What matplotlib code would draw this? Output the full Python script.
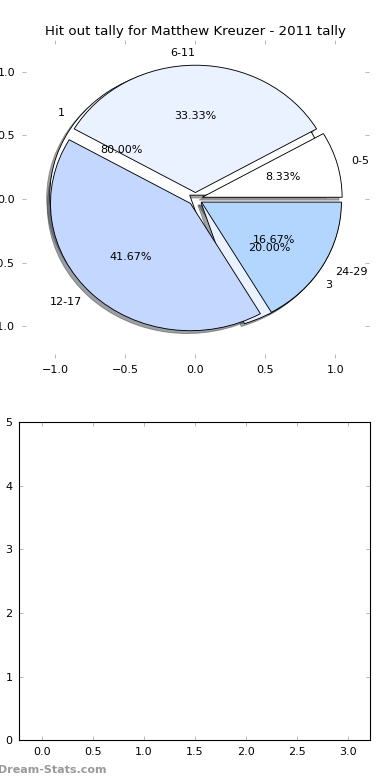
import matplotlib

matplotlib.use("Agg")
import matplotlib.pyplot as plt

# hit out ranges (main pie)
ranges = ["0-5", "6-11", "12-17", "24-29"]
range_counts = [1, 4, 5, 2]

# second series drawn underneath
games_labels = ["1", "3"]
games_counts = [4, 1]

colors = ["#ffffff", "#ebf2ff", "#c4d7ff", "#b3d6ff"]
title = "Hit out tally for Matthew Kreuzer - 2011 tally"

plt.rcParams["font.size"] = 10

fig = plt.figure(figsize=(4.875, 9.75), dpi=80, facecolor="white")

ax = fig.add_axes([0.056, 0.541, 0.89, 0.408])
ax.pie(games_counts, labels=games_labels, colors=colors, explode=[0.05] * 2,
       autopct="%1.2f%%", shadow=True, startangle=0,
       wedgeprops=dict(edgecolor="black", linewidth=0.8))
ax.pie(range_counts, labels=ranges, colors=colors, explode=[0.05] * 4,
       autopct="%1.2f%%", shadow=True, startangle=0,
       wedgeprops=dict(edgecolor="black", linewidth=0.8))
ax.set_aspect("auto")
ax.set_xlim(-1.24, 1.24)
ax.set_ylim(-1.25, 1.25)
ax.set_xticks([-1.0, -0.5, 0.0, 0.5, 1.0])
ax.set_yticks([-1.0, -0.5, 0.0, 0.5, 1.0])
ax.set_frame_on(False)
ax.tick_params(direction="in", top=True, right=True, color="#b0b0b0",
               length=4, labelsize=10, pad=6)
ax.set_title(title, fontsize=12, pad=4)

ax2 = fig.add_axes([0.0495, 0.051, 0.8995, 0.408])
ax2.set_xlim(-0.22, 3.22)
ax2.set_ylim(0, 5)
ax2.set_xticks([0.0, 0.5, 1.0, 1.5, 2.0, 2.5, 3.0])
ax2.set_yticks([0, 1, 2, 3, 4, 5])
ax2.tick_params(direction="in", top=True, right=True, color="#b0b0b0",
                length=4, labelsize=10, pad=6)
for s in ax2.spines.values():
    s.set_linewidth(1.0)

fig.text(-0.005, 0.006, "Dream-Stats.com", color="#999999", fontsize=10,
         fontweight="bold", ha="left", va="bottom")

fig.savefig("out.png", dpi=80, facecolor="white")
